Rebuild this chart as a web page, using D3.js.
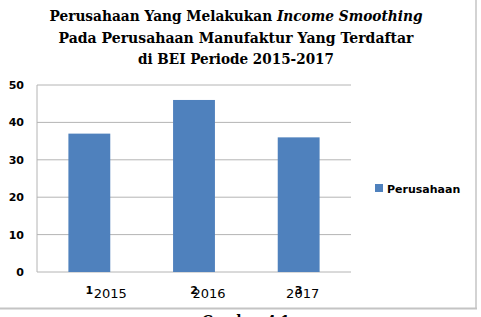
<!DOCTYPE html>
<html>
<head>
<meta charset="utf-8">
<script src="https://cdn.jsdelivr.net/npm/d3@7"></script>
<style>
  body { margin: 0; background: #fff; }
  .axis text { font-family: "DejaVu Sans", sans-serif; font-weight: bold; font-size: 11px; fill: #000; }
  .axis path, .axis line { stroke: none; }
</style>
</head>
<body>
<div id="chart-area"></div>
<script>
var categories = ["1", "2", "3"];
var yearLabels = ["2015", "2016", "2017"];
var values = [37, 46, 36];
var seriesName = "Perusahaan";
var yTicks = [0, 10, 20, 30, 40, 50];
var titleLines = [
    [["Perusahaan Yang Melakukan ", false], ["Income Smoothing", true]],
    [["Pada Perusahaan Manufaktur Yang Terdaftar", false]],
    [["di BEI Periode 2015-2017", false]]
];
var captionText = "Gambar 4.1";

BarVis = function(_parentElement) {
    this.parentElement = _parentElement;
    this.initVis();
}

BarVis.prototype.initVis = function() {
    var vis = this;

    vis.margin = {top: 85, right: 130, bottom: 45, left: 37};
    vis.width = 481 - vis.margin.left - vis.margin.right;
    vis.height = 317 - vis.margin.top - vis.margin.bottom;

    vis.root = d3.select("#" + vis.parentElement).append("svg")
        .attr("width", 481)
        .attr("height", 317);

    vis.svg = vis.root.append("g")
        .attr("transform", "translate(" + vis.margin.left + "," + vis.margin.top + ")");

    // frame of the pasted chart
    vis.root.append("line")
        .attr("x1", 476).attr("x2", 476)
        .attr("y1", 0).attr("y2", 309)
        .attr("stroke", "#c4c4c4").attr("stroke-width", 1.5);
    vis.root.append("line")
        .attr("x1", 0).attr("x2", 477)
        .attr("y1", 308.5).attr("y2", 308.5)
        .attr("stroke", "#c4c4c4").attr("stroke-width", 2);

    // title
    var widths = [373, 355, 196];
    var baselines = [21, 43, 64];
    titleLines.forEach(function(line, i) {
        var t = vis.root.append("text")
            .attr("x", 236)
            .attr("y", baselines[i])
            .attr("text-anchor", "middle")
            .attr("textLength", widths[i])
            .attr("lengthAdjust", "spacingAndGlyphs")
            .style("font-family", "'DejaVu Serif', serif")
            .style("font-weight", "bold")
            .style("font-size", "15px");
        line.forEach(function(part) {
            t.append("tspan")
                .style("font-style", part[1] ? "italic" : "normal")
                .text(part[0]);
        });
    });

    // scales
    vis.x = d3.scaleBand()
        .domain(categories)
        .range([0, vis.width])
        .padding(0);

    vis.y = d3.scaleLinear()
        .domain([0, 50])
        .range([vis.height, 0]);

    // gridlines
    vis.svg.selectAll(".grid")
        .data(yTicks)
        .enter().append("line")
        .attr("class", "grid")
        .attr("x1", 0)
        .attr("x2", vis.width)
        .attr("y1", function(d) { return vis.y(d); })
        .attr("y2", function(d) { return vis.y(d); })
        .attr("stroke", "#b4b4b4")
        .attr("stroke-width", 1);

    vis.svg.append("line")
        .attr("x1", 0).attr("x2", 0)
        .attr("y1", 0).attr("y2", vis.height)
        .attr("stroke", "#b4b4b4");

    // axes
    vis.yAxis = d3.axisLeft(vis.y)
        .tickValues(yTicks)
        .tickSize(0)
        .tickPadding(13);

    vis.svg.append("g")
        .attr("class", "y-axis axis")
        .call(vis.yAxis);

    vis.xAxis = d3.axisBottom(vis.x)
        .tickSize(0)
        .tickPadding(14);

    vis.svg.append("g")
        .attr("class", "x-axis axis")
        .attr("transform", "translate(0," + vis.height + ")")
        .call(vis.xAxis);

    // year labels pasted over the axis, a little right of each number
    var yearShift = [21, 15, 4];
    vis.svg.selectAll(".year")
        .data(yearLabels)
        .enter().append("text")
        .attr("class", "year")
        .attr("x", function(d, i) { return vis.x(categories[i]) + vis.x.bandwidth() / 2 + yearShift[i]; })
        .attr("y", vis.height + 26)
        .attr("text-anchor", "middle")
        .style("font-family", "'DejaVu Sans', sans-serif")
        .style("font-size", "13px")
        .text(function(d) { return d; });

    // bars
    var barW = vis.x.bandwidth() * 0.4;
    vis.svg.selectAll(".bar")
        .data(values)
        .enter().append("rect")
        .attr("class", "bar")
        .attr("x", function(d, i) { return vis.x(categories[i]) + (vis.x.bandwidth() - barW) / 2; })
        .attr("y", function(d) { return vis.y(d); })
        .attr("width", barW)
        .attr("height", function(d) { return vis.height - vis.y(d); })
        .attr("fill", "#4f81bd");

    // legend
    var legend = vis.root.append("g")
        .attr("transform", "translate(375,184)");
    legend.append("rect")
        .attr("width", 8).attr("height", 8)
        .attr("fill", "#4f81bd");
    legend.append("text")
        .attr("x", 12)
        .attr("y", 8.5)
        .style("font-family", "'DejaVu Sans', sans-serif")
        .style("font-weight", "bold")
        .style("font-size", "11px")
        .text(seriesName);

    // figure caption, cut off at the bottom edge
    vis.root.append("text")
        .attr("x", 246)
        .attr("y", 327)
        .attr("text-anchor", "middle")
        .attr("textLength", 88)
        .attr("lengthAdjust", "spacingAndGlyphs")
        .style("font-family", "'DejaVu Serif', serif")
        .style("font-weight", "bold")
        .style("font-size", "16px")
        .text(captionText);
}

new BarVis("chart-area");
</script>
</body>
</html>
